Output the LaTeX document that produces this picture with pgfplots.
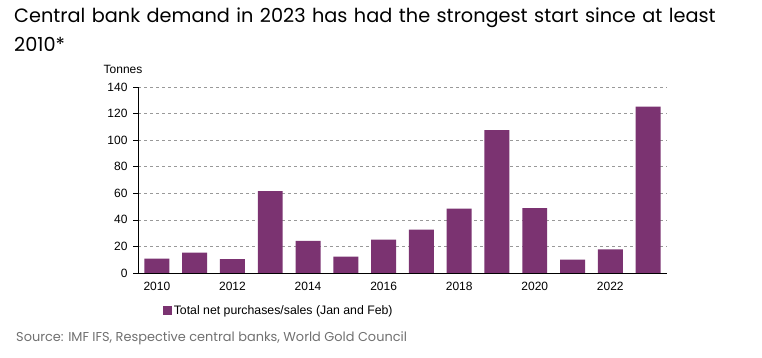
\documentclass[border=0pt]{standalone}
\usepackage{pgfplots}
\pgfplotsset{compat=1.18}
\usepackage{fontspec}
\setmainfont{Liberation Sans}
\newfontfamily\pop{Poppins}
\definecolor{barc}{HTML}{7B3371}
\definecolor{srcgray}{HTML}{707070}
\begin{document}
\begin{tikzpicture}[x=1pt,y=1pt]
\useasboundingbox (-138,-85) rectangle (624,273);
\begin{axis}[
  at={(0,0)}, anchor=south west,
  scale only axis, width=529pt, height=186pt,
  xmin=2009.5, xmax=2023.5, ymin=0, ymax=140,
  axis lines*=left,
  axis line style={black, line width=0.8pt},
  ytick={0,20,...,140},
  ymajorgrids,
  grid style={dashed, gray!80, line width=0.6pt},
  major tick length=5pt,
  tick style={black, line width=0.6pt},
  tick align=outside,
  xtick={2010,2012,...,2022},
  xtick style={draw=none},
  extra x ticks={2009.5,2011.5,...,2023.5},
  extra x tick labels={},
  extra x tick style={tick style={black, line width=0.6pt}, major tick length=5pt, grid=none},
  xticklabel style={font=\fontsize{12}{14}\selectfont, yshift=-1pt},
  yticklabel style={font=\fontsize{12}{14}\selectfont, xshift=-2pt},
  /pgf/number format/assume math mode=true,
  xticklabel={\pgfmathprintnumber[1000 sep={}]{\tick}},
  legend style={at={(0.266,0)}, anchor=north, yshift=-30pt, draw=none,
    font=\fontsize{12.3}{14}\selectfont, inner sep=0pt},
  legend image code/.code={\fill[barc] (0pt,-4.5pt) rectangle (9pt,4.5pt);},
  clip=false,
]
\addplot[ybar, bar width=0.66, fill=barc, draw=none] coordinates {
 (2010,10.8) (2011,15.3) (2012,10.5) (2013,61.7) (2014,24.1) (2015,12.3)
 (2016,25.1) (2017,32.6) (2018,48.4) (2019,107.6) (2020,48.9) (2021,10.0)
 (2022,17.8) (2023,125.2)};
\addlegendentry{Total net purchases/sales (Jan and Feb)}
\end{axis}
\node[anchor=center, font=\fontsize{12}{14}\selectfont] at (-15,204) {Tonnes};
\node[anchor=north west, align=left, font=\pop\fontsize{19.3}{28.5}\selectfont, inner sep=0pt, text width=760pt] at (-124,265) {Central bank demand in 2023 has had the strongest start since at least\\2010*};
\node[anchor=west, font=\pop\fontsize{12.9}{15}\selectfont, text=srcgray, inner sep=0pt] at (-122,-65) {Source: IMF IFS, Respective central banks, World Gold Council};
\end{tikzpicture}
\end{document}
